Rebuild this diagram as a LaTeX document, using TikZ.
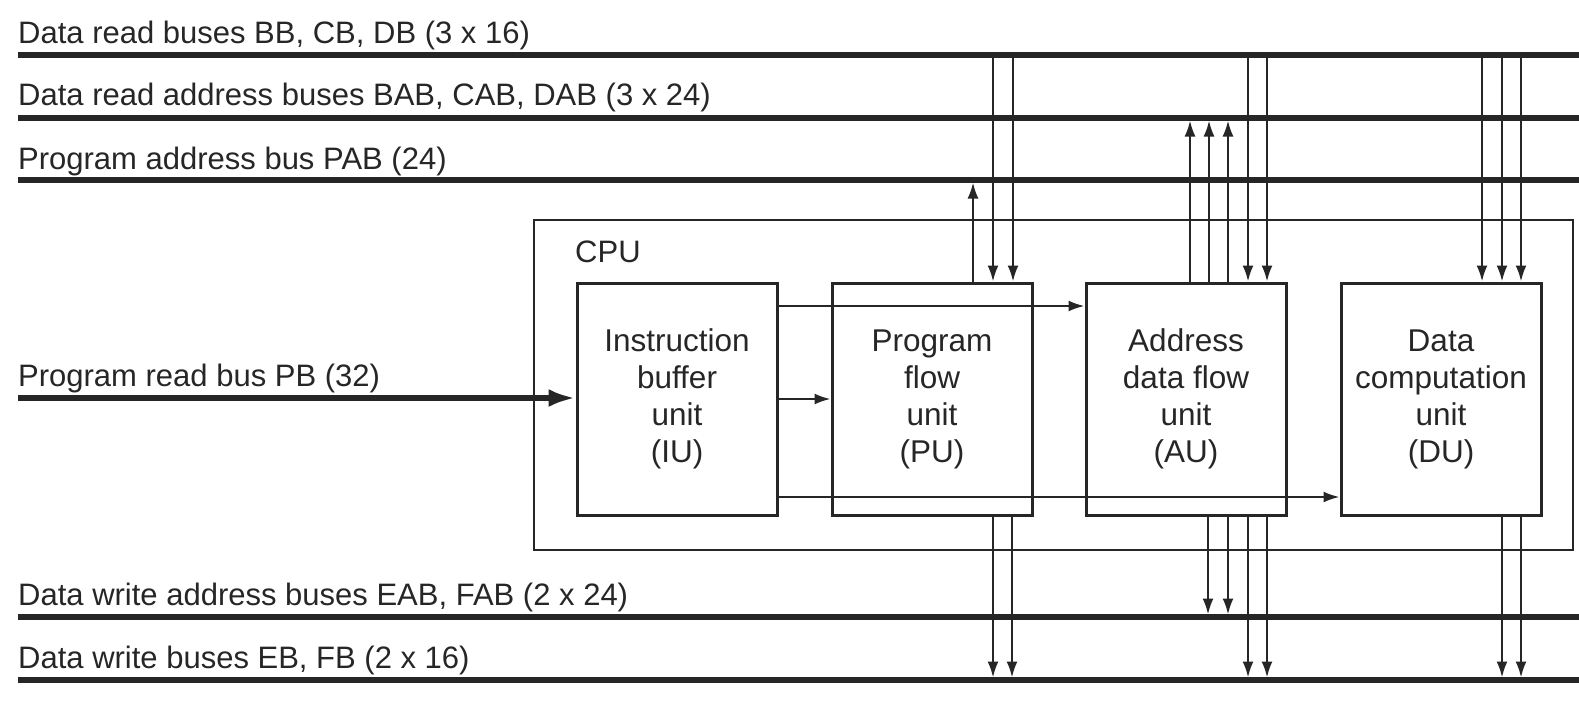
\documentclass[tikz,border=0pt]{standalone}
\usepackage{fontspec}
\setmainfont{Liberation Sans}
\usetikzlibrary{arrows.meta}
\definecolor{ink}{HTML}{262626}
\begin{document}
\begin{tikzpicture}[x=1pt,y=-1pt,
  bus/.style={line width=5.5pt, draw=ink},
  unitbox/.style={draw=ink, line width=3pt, minimum width=200pt, minimum height=232pt, align=center, font=\fontsize{31.5}{37}\selectfont, text=ink, inner sep=0pt},
  arr/.style={draw=ink, line width=2.2pt, -{Latex[length=16pt,width=11pt]}},
  lbl/.style={anchor=base west, font=\fontsize{31}{35}\selectfont, text=ink, inner sep=0pt}]
\useasboundingbox (0,0) rectangle (1579,718);
% bus rows
\coordinate (b1) at (18,55);   \coordinate (b1e) at (1579,55);
\coordinate (b2) at (18,118);  \coordinate (b2e) at (1579,118);
\coordinate (b3) at (18,180);  \coordinate (b3e) at (1579,180);
\coordinate (b4) at (18,617);  \coordinate (b4e) at (1579,617);
\coordinate (b5) at (18,680);  \coordinate (b5e) at (1579,680);
\draw[bus] (b1) -- (b1e);
\draw[bus] (b2) -- (b2e);
\draw[bus] (b3) -- (b3e);
\draw[bus] (b4) -- (b4e);
\draw[bus] (b5) -- (b5e);
% labels
\node[lbl] (l1) at (18,43) {Data read buses BB, CB, DB (3 x 16)};
\node[lbl] (l2) at (18,105) {Data read address buses BAB, CAB, DAB (3 x 24)};
\node[lbl] (l3) at (18,169) {Program address bus PAB (24)};
\node[lbl] (l4) at (18,386) {Program read bus PB (32)};
\node[lbl] (l5) at (18,605) {Data write address buses EAB, FAB (2 x 24)};
\node[lbl] (l6) at (18,668) {Data write buses EB, FB (2 x 16)};
% CPU
\node[draw=ink, line width=1.6pt, minimum width=1039pt, minimum height=330pt, inner sep=0pt] (cpu) at (1053.5,385) {};
\node[lbl] (cpulbl) at (575,262) {CPU};
% units
\node[unitbox] (iu) at (677,399) {Instruction\\buffer\\unit\\(IU)};
\node[unitbox] (pu) at (932,399) {Program\\flow\\unit\\(PU)};
\node[unitbox] (au) at (1186,399) {Address\\data flow\\unit\\(AU)};
\node[unitbox] (du) at (1441,399) {Data\\computation\\unit\\(DU)};
% program read bus
\coordinate (pbs) at (18,398);
\draw[bus, -{Latex[length=27pt,width=18pt]}] (pbs) -- (iu.west |- pbs);
% internal
\draw[arr] (iu.east) -- (pu.west);
\draw[arr] ([yshift=93pt]iu.east) -- ([yshift=93pt]au.west);
\draw[arr] ([yshift=-98pt]iu.east) -- ([yshift=-98pt]du.west);
% PU
\draw[arr, shorten >=2.5pt] ([xshift=41pt]pu.north) -- ([xshift=41pt]pu.north |- b3);
\draw[arr] ([xshift=61pt]pu.north |- b1) -- ([xshift=61pt]pu.north);
\draw[arr] ([xshift=81pt]pu.north |- b1) -- ([xshift=81pt]pu.north);
\draw[arr, shorten >=2.5pt] ([xshift=61pt]pu.south) -- ([xshift=61pt]pu.south |- b5);
\draw[arr, shorten >=2.5pt] ([xshift=80pt]pu.south) -- ([xshift=80pt]pu.south |- b5);
% AU
\draw[arr, shorten >=2.5pt] ([xshift=4pt]au.north) -- ([xshift=4pt]au.north |- b2);
\draw[arr, shorten >=2.5pt] ([xshift=23pt]au.north) -- ([xshift=23pt]au.north |- b2);
\draw[arr, shorten >=2.5pt] ([xshift=42pt]au.north) -- ([xshift=42pt]au.north |- b2);
\draw[arr] ([xshift=62pt]au.north |- b1) -- ([xshift=62pt]au.north);
\draw[arr] ([xshift=81pt]au.north |- b1) -- ([xshift=81pt]au.north);
\draw[arr, shorten >=2.5pt] ([xshift=22pt]au.south) -- ([xshift=22pt]au.south |- b4);
\draw[arr, shorten >=2.5pt] ([xshift=42pt]au.south) -- ([xshift=42pt]au.south |- b4);
\draw[arr, shorten >=2.5pt] ([xshift=62pt]au.south) -- ([xshift=62pt]au.south |- b5);
\draw[arr, shorten >=2.5pt] ([xshift=81pt]au.south) -- ([xshift=81pt]au.south |- b5);
% DU
\draw[arr] ([xshift=41pt]du.north |- b1) -- ([xshift=41pt]du.north);
\draw[arr] ([xshift=61pt]du.north |- b1) -- ([xshift=61pt]du.north);
\draw[arr] ([xshift=80pt]du.north |- b1) -- ([xshift=80pt]du.north);
\draw[arr, shorten >=2.5pt] ([xshift=61pt]du.south) -- ([xshift=61pt]du.south |- b5);
\draw[arr, shorten >=2.5pt] ([xshift=80pt]du.south) -- ([xshift=80pt]du.south |- b5);
\end{tikzpicture}
\end{document}
